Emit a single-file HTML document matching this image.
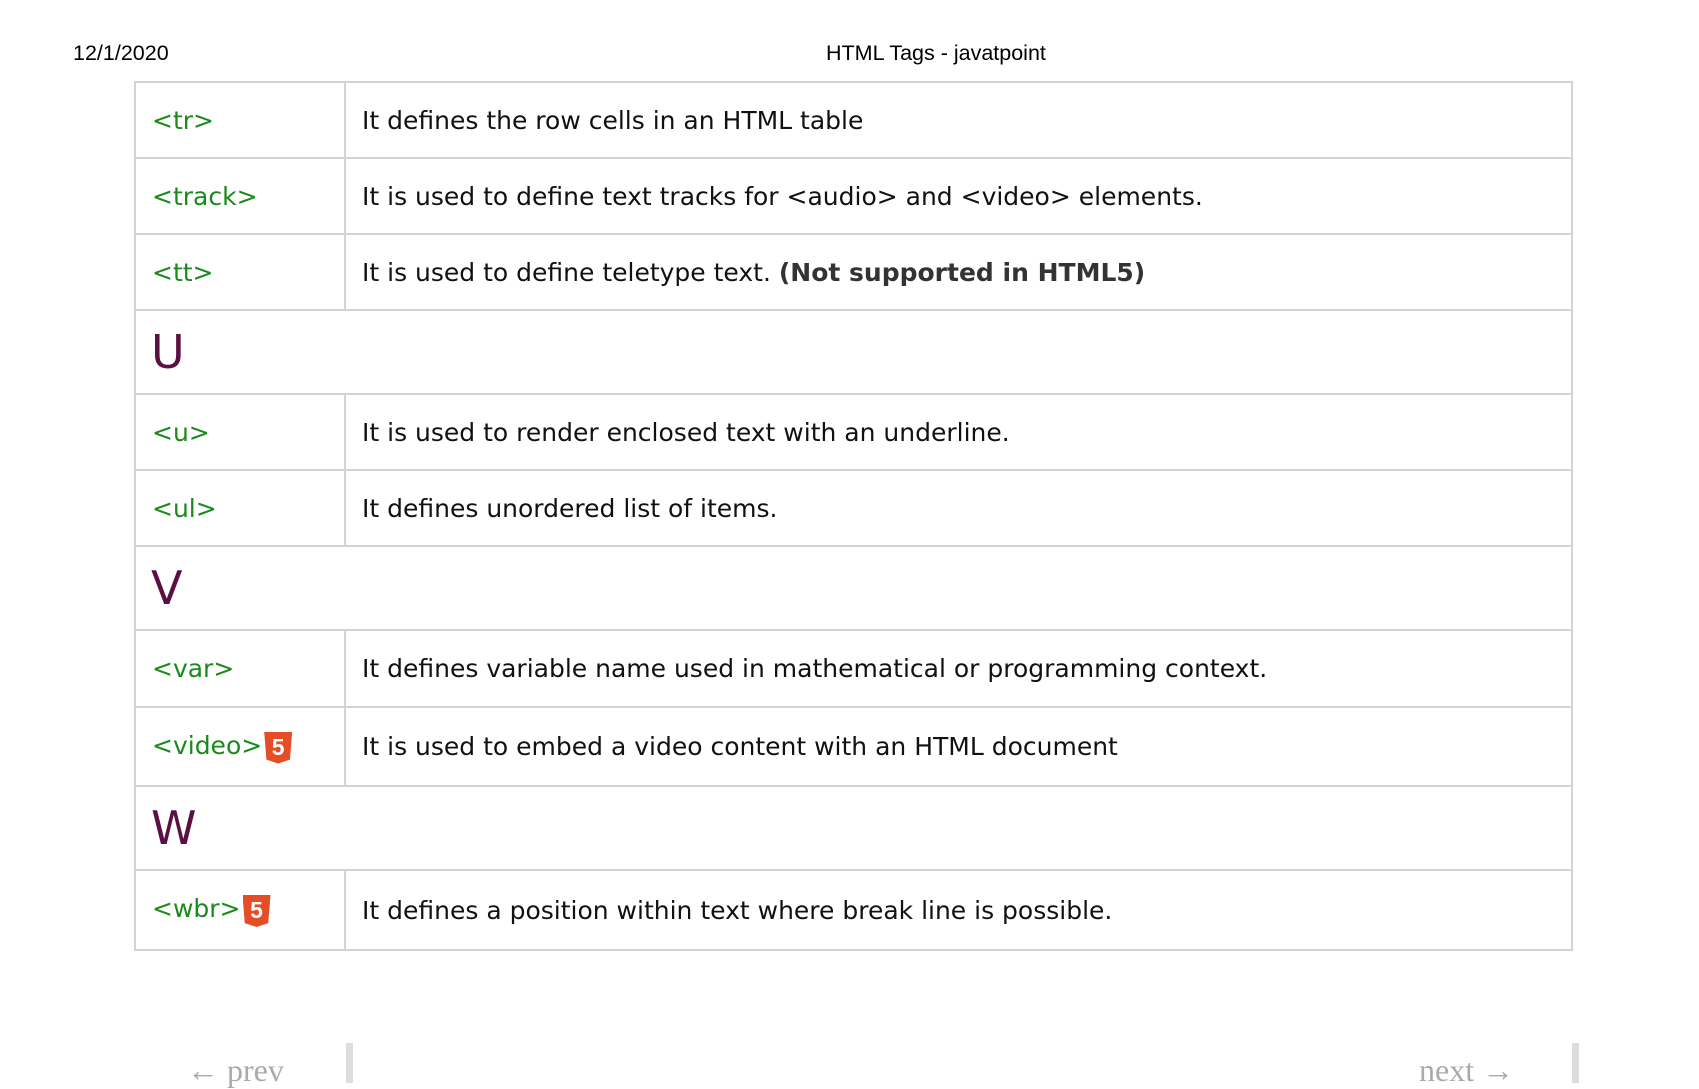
<!DOCTYPE html>
<html><head><meta charset="utf-8"><style>
body{margin:0;width:1699px;height:1082px;background:#fff;position:relative;overflow:hidden;font-family:"DejaVu Sans",Verdana,sans-serif}
.h{position:absolute;top:41px;font:21.5px "Liberation Sans",sans-serif;color:#000}
table{position:absolute;left:134px;top:81px;width:1439px;border-collapse:collapse}
td{border:2px solid #d4d4ce;font-size:25px;color:#111;padding:0 0 0 16px;vertical-align:middle}
td.t{width:192px;color:#1a8a1a}
tr.r{height:76px}
tr.l{height:84px}
td.L{font-size:46px;color:#5a1040;padding-left:15px}
.b{font-weight:bold;color:#333}
.i{display:inline-block;width:28px;height:32px;background:#e44d26;color:#fff;font:bold 23px/30px "Liberation Sans",sans-serif;text-align:center;vertical-align:middle;position:relative;top:1px;clip-path:polygon(0 0,100% 0,92% 88%,50% 100%,8% 88%);margin-left:2px}
.n{position:absolute;top:1052px;font:32px "Liberation Serif",serif;color:#aaa}
.bar{position:absolute;top:1043px;width:7px;height:40px;background:#ddd}
</style></head><body>
<div class="h" style="left:73px">12/1/2020</div>
<div class="h" style="left:826px">HTML Tags - javatpoint</div>
<table>
<tr class="r"><td class="t">&lt;tr&gt;</td><td>It defines the row cells in an HTML table</td></tr>
<tr class="r"><td class="t">&lt;track&gt;</td><td>It is used to define text tracks for &lt;audio&gt; and &lt;video&gt; elements.</td></tr>
<tr class="r"><td class="t">&lt;tt&gt;</td><td>It is used to define teletype text. <span class="b">(Not supported in HTML5)</span></td></tr>
<tr class="l"><td class="L" colspan="2">U</td></tr>
<tr class="r"><td class="t">&lt;u&gt;</td><td>It is used to render enclosed text with an underline.</td></tr>
<tr class="r"><td class="t">&lt;ul&gt;</td><td>It defines unordered list of items.</td></tr>
<tr class="l"><td class="L" colspan="2">V</td></tr>
<tr class="r" style="height:77px"><td class="t">&lt;var&gt;</td><td>It defines variable name used in mathematical or programming context.</td></tr>
<tr class="r" style="height:79px"><td class="t">&lt;video&gt;<span class="i">5</span></td><td>It is used to embed a video content with an HTML document</td></tr>
<tr class="l"><td class="L" colspan="2">W</td></tr>
<tr class="r" style="height:80px"><td class="t">&lt;wbr&gt;<span class="i">5</span></td><td>It defines a position within text where break line is possible.</td></tr>
</table>
<div class="n" style="left:187px">← prev</div>
<div class="bar" style="left:346px"></div>
<div class="n" style="left:1419px">next →</div>
<div class="bar" style="left:1572px"></div>
</body></html>
